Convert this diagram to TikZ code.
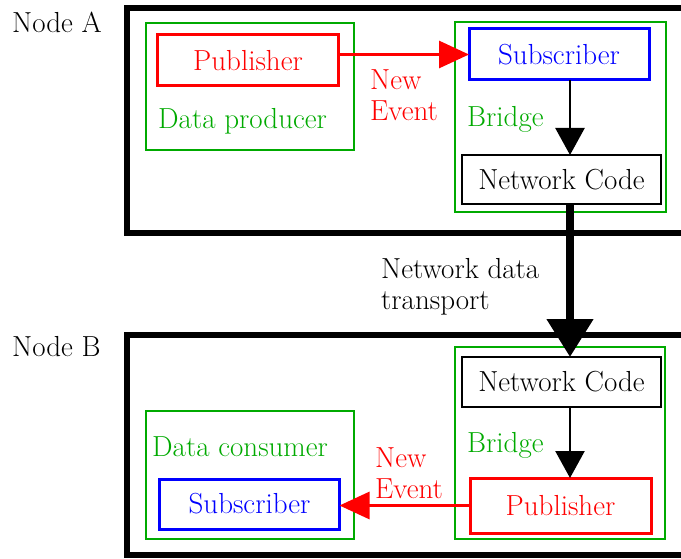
\documentclass[tikz,border=0pt]{standalone}
\usepackage{xcolor}
\usetikzlibrary{arrows.meta, positioning, calc}
\definecolor{evred}{RGB}{255,0,0}
\definecolor{subblue}{RGB}{0,0,255}
\definecolor{grpgreen}{RGB}{0,170,0}
\newcommand{\diagfont}{\rmfamily\fontsize{29}{30.5}\selectfont}
\tikzset{
    host/.style={
        rectangle,
        draw=black,
        line width=6.5pt,
        outer sep=0pt,
        anchor=north west
    },
    group/.style={
        rectangle,
        draw=grpgreen,
        line width=2.5pt,
        outer sep=0pt
    },
    pubbox/.style={
        rectangle,
        draw=evred,
        line width=3pt,
        text=evred,
        outer sep=0pt,
        minimum width=181pt,
        minimum height=51pt,
        font=\diagfont
    },
    subbox/.style={
        rectangle,
        draw=subblue,
        line width=3pt,
        text=subblue,
        outer sep=0pt,
        minimum width=180pt,
        minimum height=51pt,
        font=\diagfont
    },
    netbox/.style={
        rectangle,
        draw=black,
        line width=2.5pt,
        outer sep=0pt,
        minimum width=199pt,
        minimum height=49pt,
        font=\diagfont
    },
    grplabel/.style={
        text=grpgreen,
        anchor=west,
        inner sep=0pt,
        font=\diagfont
    },
    evlabel/.style={
        text=evred,
        align=left,
        anchor=west,
        inner sep=0pt,
        font=\diagfont
    },
    plainlabel/.style={
        align=left,
        anchor=west,
        inner sep=0pt,
        font=\diagfont
    },
    event/.style={
        draw=evred,
        line width=3pt,
        -{Triangle[length=30pt, width=27pt]}
    },
    flow/.style={
        draw=black,
        line width=2.5pt,
        -{Triangle[length=27pt, width=29pt]}
    },
    transport/.style={
        draw=black,
        line width=8pt,
        -{Triangle[length=38pt, width=45pt]}
    }
}

\begin{document}
\begin{tikzpicture}[x=1pt, y=-1pt]

\useasboundingbox (0,0) rectangle (681,559);
\clip (0,0) rectangle (681,559);

% Node A
\node[host, minimum width=600pt, minimum height=225pt] (nodeA) at (127,8) {};
\node[plainlabel] (nodeAlbl) at (12,22) {Node A};

\node[group, minimum width=208pt, minimum height=127pt] (producer) at (250,86.5) {};
\node[pubbox] (pubA) at (248,60.5) {Publisher};
\node[grplabel] (producerlbl) at (158,121) {Data producer};

\node[group, minimum width=211pt, minimum height=190pt] (bridgeA) at (560.5,117) {};
\node[subbox] (subA) at (559,54.5) {Subscriber};
\node[netbox] (netA) at (561.5,179.5) {Network Code};
\node[grplabel] (bridgeAlbl) at (467,119) {Bridge};

\node[evlabel] (eventA) at (370,95) {New\\Event};

\draw[event] (pubA.east |- subA.west) -- (subA.west);
\draw[flow] ([xshift=11pt]subA.south) -- ([xshift=8.5pt]netA.north);

% Node B
\node[host, minimum width=600pt, minimum height=220pt] (nodeB) at (127,335) {};
\node[plainlabel] (nodeBlbl) at (12,347) {Node B};

\node[group, minimum width=210pt, minimum height=192pt] (bridgeB) at (560,443) {};
\node[netbox, minimum height=50pt] (netB) at (561.5,382) {Network Code};
\node[pubbox, minimum height=55pt] (pubB) at (560.5,505.5) {Publisher};
\node[grplabel] (bridgeBlbl) at (467,445) {Bridge};

\node[group, minimum width=208pt, minimum height=128pt] (consumer) at (250,475) {};
\node[subbox, minimum height=50pt] (subB) at (249.5,504) {Subscriber};
\node[grplabel] (consumerlbl) at (152,447) {Data consumer};

\node[evlabel] (eventB) at (375,473) {New\\Event};

\draw[flow] ([xshift=8.5pt]netB.south) -- ([xshift=9.5pt]pubB.north);
\draw[event] (pubB.west) -- (subB.east |- pubB.west);

% transport between the nodes
\draw[transport] ([xshift=8.5pt]netA.south) -- ([xshift=8.5pt]netB.north);
\node[plainlabel] (transportlbl) at (381,287) {Network data\\transport};

\end{tikzpicture}
\end{document}
